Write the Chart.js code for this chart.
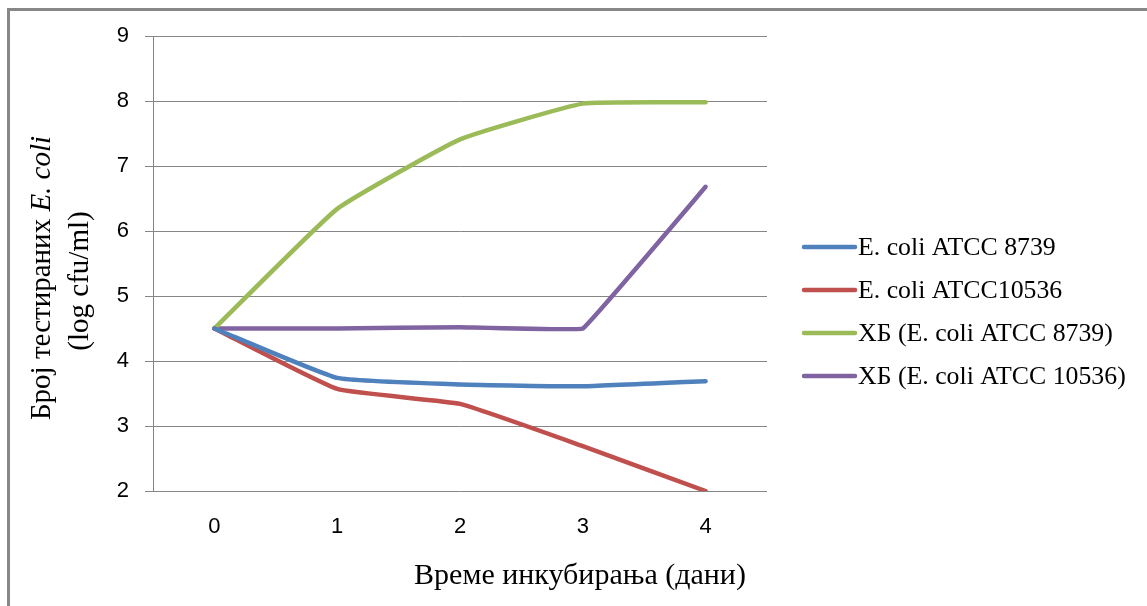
<!DOCTYPE html>
<html>
<head>
<meta charset="utf-8">
<script src="https://cdn.jsdelivr.net/npm/chart.js@4/dist/chart.umd.min.js"></script>
<style>
  html, body { margin: 0; padding: 0; background: #fff; }
  #wrap { width: 1147px; height: 606px; position: relative; }
</style>
</head>
<body>
<div id="wrap"><canvas id="chart"></canvas></div>
<script>
// Data
const days = ['0', '1', '2', '3', '4'];
const seriesNames = [
    'E. coli ATCC 8739',
    'E. coli ATCC10536',
    'ХБ (E. coli ATCC 8739)',
    'ХБ (E. coli ATCC 10536)'
];
const ecoli8739 = [4.5, 3.74, 3.64, 3.61, 3.69];
const ecoli10536 = [4.5, 3.57, 3.34, 2.69, 2.0];
const hb8739 = [4.5, 6.34, 7.41, 7.96, 7.98];
const hb10536 = [4.5, 4.5, 4.52, 4.5, 6.68];
const yMin = 2;
const yMax = 9;
const yStep = 1;

const colors = ['#4F81BD', '#C0504D', '#9BBB59', '#8064A2'];
const tensions = [0.12, 0.12, 0.12, 0.04];
const gridColor = '#868686';
const serif = '"Liberation Serif", "Times New Roman", serif';
const sans = '"Liberation Sans", Arial, sans-serif';

// Frame, axis titles and legend drawn on the canvas
const decorations = {
    id: 'decorations',
    afterDraw(chart) {
        const ctx = chart.ctx;
        ctx.save();

        // frame (top and left edges)
        ctx.strokeStyle = '#878787';
        ctx.lineWidth = 3;
        ctx.beginPath();
        ctx.moveTo(8.5, 606);
        ctx.lineTo(8.5, 9.5);
        ctx.lineTo(1147, 9.5);
        ctx.stroke();

        ctx.fillStyle = '#000';

        // x axis title
        ctx.font = '30px ' + serif;
        ctx.textAlign = 'center';
        ctx.textBaseline = 'middle';
        ctx.fillText('Време инкубирања (дани)', 580, 576);

        // y axis title, two lines, "E. coli" in italics
        const partA = 'Број тестираних ';
        const partB = 'E. coli';
        ctx.font = '29px ' + serif;
        const wA = ctx.measureText(partA).width;
        ctx.font = 'italic 29px ' + serif;
        const wB = ctx.measureText(partB).width;
        ctx.save();
        ctx.translate(42, 278);
        ctx.rotate(-Math.PI / 2);
        ctx.textAlign = 'left';
        ctx.font = '29px ' + serif;
        ctx.fillText(partA, -(wA + wB) / 2, 0);
        ctx.font = 'italic 29px ' + serif;
        ctx.fillText(partB, -(wA + wB) / 2 + wA, 0);
        ctx.restore();

        ctx.save();
        ctx.translate(80, 281);
        ctx.rotate(-Math.PI / 2);
        ctx.textAlign = 'center';
        ctx.font = '29px ' + serif;
        ctx.fillText('(log cfu/ml)', 0, 0);
        ctx.restore();

        // legend
        ctx.font = '25.8px ' + serif;
        ctx.textAlign = 'left';
        ctx.textBaseline = 'middle';
        chart.data.datasets.forEach((ds, i) => {
            const y = 247 + i * 43;
            ctx.strokeStyle = ds.borderColor;
            ctx.lineWidth = 4.5;
            ctx.lineCap = 'round';
            ctx.beginPath();
            ctx.moveTo(804, y);
            ctx.lineTo(855, y);
            ctx.stroke();
            ctx.fillStyle = '#000';
            ctx.fillText(ds.label, 858, y + 1);
        });

        ctx.restore();
    }
};

const allSeries = [ecoli8739, ecoli10536, hb8739, hb10536];

new Chart(document.getElementById('chart'), {
    type: 'line',
    data: {
        labels: days,
        datasets: allSeries.map((values, i) => ({
            label: seriesNames[i],
            data: values,
            borderColor: colors[i],
            backgroundColor: colors[i],
            borderWidth: 4.5,
            borderCapStyle: 'round',
            borderJoinStyle: 'round',
            pointRadius: 0,
            tension: tensions[i],
            fill: false
        }))
    },
    options: {
        responsive: true,
        maintainAspectRatio: false,
        animation: false,
        layout: {
            padding: { top: 36, right: 380, left: 0, bottom: 0 }
        },
        scales: {
            x: {
                offset: true,
                grid: { display: false, drawTicks: false },
                border: { display: false },
                ticks: {
                    color: '#000',
                    padding: 23,
                    font: { family: sans, size: 22 }
                },
                afterFit(scale) { scale.height = 115; }
            },
            y: {
                min: yMin,
                max: yMax,
                grid: {
                    color: gridColor,
                    lineWidth: 1,
                    drawTicks: true,
                    tickLength: 8
                },
                border: { display: true, color: gridColor, width: 1 },
                ticks: {
                    stepSize: yStep,
                    color: '#000',
                    padding: 16,
                    font: { family: sans, size: 22 }
                },
                afterFit(scale) { scale.width = 153; }
            }
        },
        plugins: {
            legend: { display: false },
            tooltip: { enabled: false }
        }
    },
    plugins: [decorations]
});
</script>
</body>
</html>
